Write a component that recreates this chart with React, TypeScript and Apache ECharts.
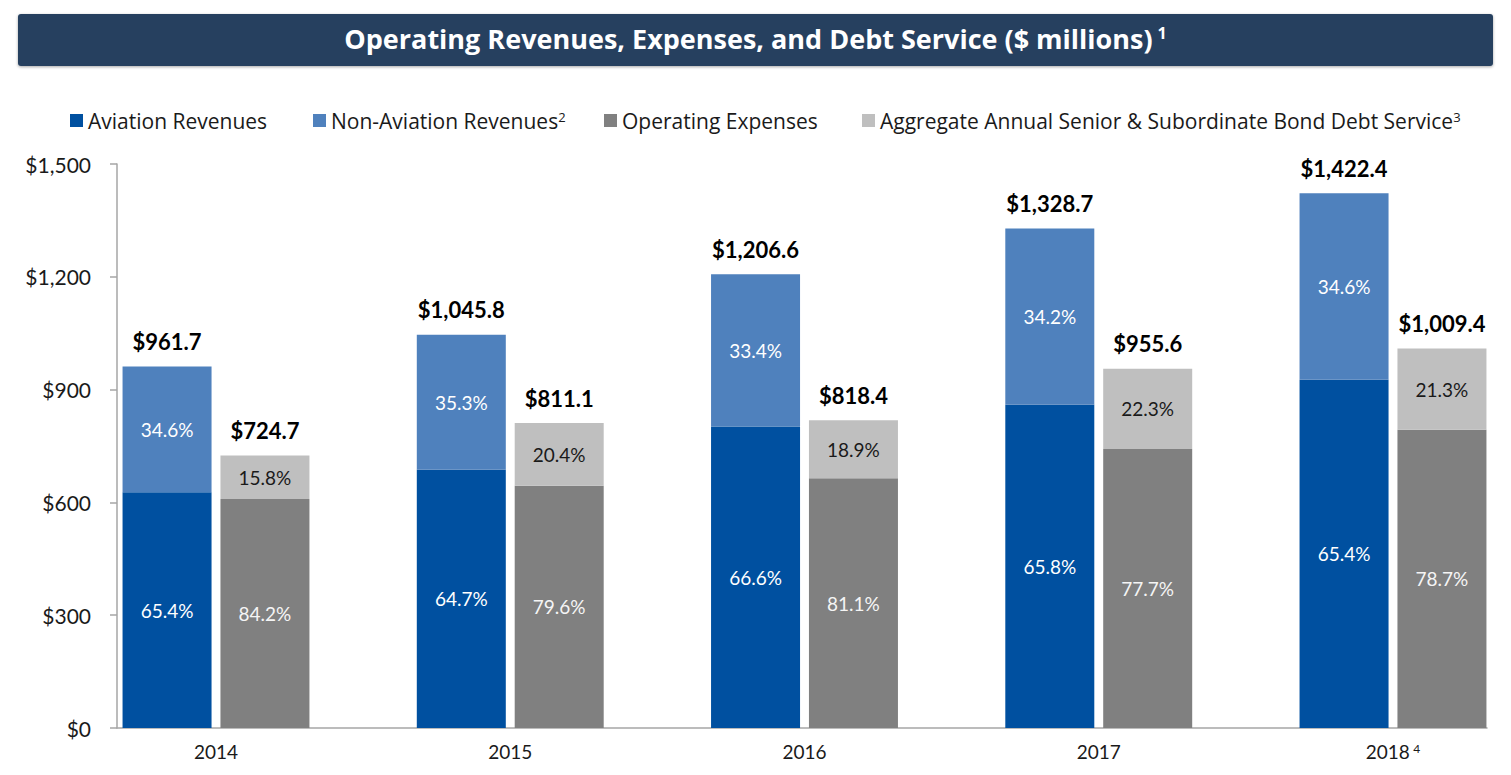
import React, { useEffect, useRef } from "react";
import * as echarts from "echarts";

const years = ["2014", "2015", "2016", "2017", "2018"];
const yearNotes = ["", "", "", "", "4"];
const aviation = [627.0, 687.0, 802.0, 860.0, 926.0];
const nonAviation = [334.7, 358.8, 404.6, 468.7, 496.4];
const opex = [609.0, 644.0, 664.0, 742.0, 793.0];
const debtService = [115.7, 167.1, 154.4, 213.6, 216.4];
const revenueTotals = [961.7, 1045.8, 1206.6, 1328.7, 1422.4];
const expenseTotals = [724.7, 811.1, 818.4, 955.6, 1009.4];
const aviationPct = ["65.4%", "64.7%", "66.6%", "65.8%", "65.4%"];
const nonAviationPct = ["34.6%", "35.3%", "33.4%", "34.2%", "34.6%"];
const opexPct = ["84.2%", "79.6%", "81.1%", "77.7%", "78.7%"];
const debtPct = ["15.8%", "20.4%", "18.9%", "22.3%", "21.3%"];
const seriesNames = [
  "Aviation Revenues",
  "Non-Aviation Revenues",
  "Operating Expenses",
  "Aggregate Annual Senior & Subordinate Bond Debt Service",
];
const seriesNotes = ["", "2", "", "3"];
const yMin = 0;
const yMax = 1500;
const yStep = 300;

const NUM_FONT = "Lato";
const TXT_FONT = "Open Sans";

const fmtMoney = (v: number) =>
  "$" + v.toLocaleString("en-US", { minimumFractionDigits: 1, maximumFractionDigits: 1 });

export default function App() {
  const ref = useRef<HTMLDivElement>(null);

  useEffect(() => {
    if (!ref.current) return;
    const chart = echarts.init(ref.current, undefined, { renderer: "svg" });

    const zeros = years.map(() => 0);

    const pctLabel = (labels: string[], color: string) => ({
      show: true,
      position: "inside",
      formatter: (p: any) => labels[p.dataIndex],
      color,
      fontSize: 19,
      fontFamily: NUM_FONT,
    });

    const totalLabel = (totals: number[]) => ({
      show: true,
      position: "top",
      distance: 14,
      formatter: (p: any) => fmtMoney(totals[p.dataIndex]),
      color: "#000",
      fontSize: 22,
      fontWeight: "bold",
      fontFamily: NUM_FONT,
    });

    const barCommon = {
      type: "bar",
      xAxisIndex: 0,
      yAxisIndex: 0,
      barWidth: 89,
      barGap: "10%",
      clip: false,
      emphasis: { disabled: true },
    };

    const colors = ["#0050A0", "#4F81BD", "#808080", "#BFBFBF"];
    const legendLefts = [70, 313, 604, 862];
    const axisGray = "#A6A6A6";

    const option: any = {
      animation: false,
      graphic: [
        {
          type: "rect",
          z: 0,
          shape: { x: 18, y: 14, width: 1475, height: 52, r: 3 },
          style: {
            fill: "#253F5F",
            shadowBlur: 3,
            shadowColor: "rgba(0,0,0,0.35)",
            shadowOffsetY: 1,
          },
        },
      ],
      title: {
        text: "{t|Operating Revenues, Expenses, and Debt Service ($ millions)} {s|1}",
        left: "center",
        top: 25,
        padding: 0,
        z: 10,
        textStyle: {
          rich: {
            t: { fontSize: 27, fontWeight: "bold", color: "#fff", fontFamily: TXT_FONT },
            s: { fontSize: 16, fontWeight: "bold", color: "#fff", fontFamily: TXT_FONT, verticalAlign: "top" },
          },
        },
      },
      legend: seriesNames.map((name, i) => ({
        data: [name],
        left: legendLefts[i],
        top: 110,
        padding: 0,
        itemWidth: 13,
        itemHeight: 13,
        icon: "rect",
        selectedMode: false,
        formatter: (n: string) => (seriesNotes[i] ? n + "{s|" + seriesNotes[i] + "}" : n),
        textStyle: {
          fontSize: 21,
          fontFamily: TXT_FONT,
          color: "#1a1a1a",
          rich: {
            s: { fontSize: 13, fontFamily: TXT_FONT, color: "#1a1a1a", verticalAlign: "top" },
          },
        },
      })),
      grid: [
        { left: 216, right: 118, top: 164, bottom: 47 },
        { left: 117, right: 24, top: 164, bottom: 47 },
      ],
      xAxis: [
        {
          type: "category",
          gridIndex: 0,
          data: years,
          boundaryGap: false,
          axisLine: { show: false },
          axisTick: { show: false },
          splitLine: { show: false },
          axisLabel: {
            margin: 14,
            formatter: (v: string, i: number) =>
              yearNotes[i] ? "{y|" + v + "} {s|" + yearNotes[i] + "}" : "{y|" + v + "}",
            rich: {
              y: { fontSize: 19, fontFamily: NUM_FONT, color: "#1a1a1a" },
              s: { fontSize: 12, fontFamily: NUM_FONT, color: "#1a1a1a", verticalAlign: "top" },
            },
          },
        },
        {
          type: "value",
          gridIndex: 1,
          min: 0,
          max: 1,
          axisLine: { show: true, onZero: false, lineStyle: { color: axisGray, width: 1.5 } },
          axisTick: { show: false },
          axisLabel: { show: false },
          splitLine: { show: false },
        },
      ],
      yAxis: [
        {
          type: "value",
          gridIndex: 0,
          min: yMin,
          max: yMax,
          interval: yStep,
          show: false,
        },
        {
          type: "value",
          gridIndex: 1,
          min: yMin,
          max: yMax,
          interval: yStep,
          axisLine: { show: true, onZero: false, lineStyle: { color: axisGray, width: 1.5 } },
          axisTick: { show: true, length: 7, lineStyle: { color: axisGray, width: 1.5 } },
          splitLine: { show: false },
          axisLabel: {
            margin: 26,
            fontSize: 21,
            fontFamily: NUM_FONT,
            color: "#1a1a1a",
            formatter: (v: number) => "$" + v.toLocaleString("en-US"),
          },
        },
      ],
      series: [
        {
          ...barCommon,
          name: seriesNames[0],
          stack: "rev",
          data: aviation,
          itemStyle: { color: colors[0] },
          label: pctLabel(aviationPct, "#ffffff"),
        },
        {
          ...barCommon,
          name: seriesNames[1],
          stack: "rev",
          data: nonAviation,
          itemStyle: { color: colors[1] },
          label: pctLabel(nonAviationPct, "#ffffff"),
        },
        {
          ...barCommon,
          name: "Revenue Total",
          stack: "rev",
          data: zeros,
          itemStyle: { color: "transparent" },
          label: totalLabel(revenueTotals),
        },
        {
          ...barCommon,
          name: seriesNames[2],
          stack: "exp",
          data: opex,
          itemStyle: { color: colors[2] },
          label: pctLabel(opexPct, "#f5f5f5"),
        },
        {
          ...barCommon,
          name: seriesNames[3],
          stack: "exp",
          data: debtService,
          itemStyle: { color: colors[3] },
          label: pctLabel(debtPct, "#1a1a1a"),
        },
        {
          ...barCommon,
          name: "Expense Total",
          stack: "exp",
          data: zeros,
          itemStyle: { color: "transparent" },
          label: totalLabel(expenseTotals),
        },
      ],
    };

    chart.setOption(option);
    return () => chart.dispose();
  }, []);

  return (
    <div
      ref={ref}
      style={{ position: "fixed", left: 0, top: 0, width: 1511, height: 775, background: "#fff" }}
    />
  );
}
